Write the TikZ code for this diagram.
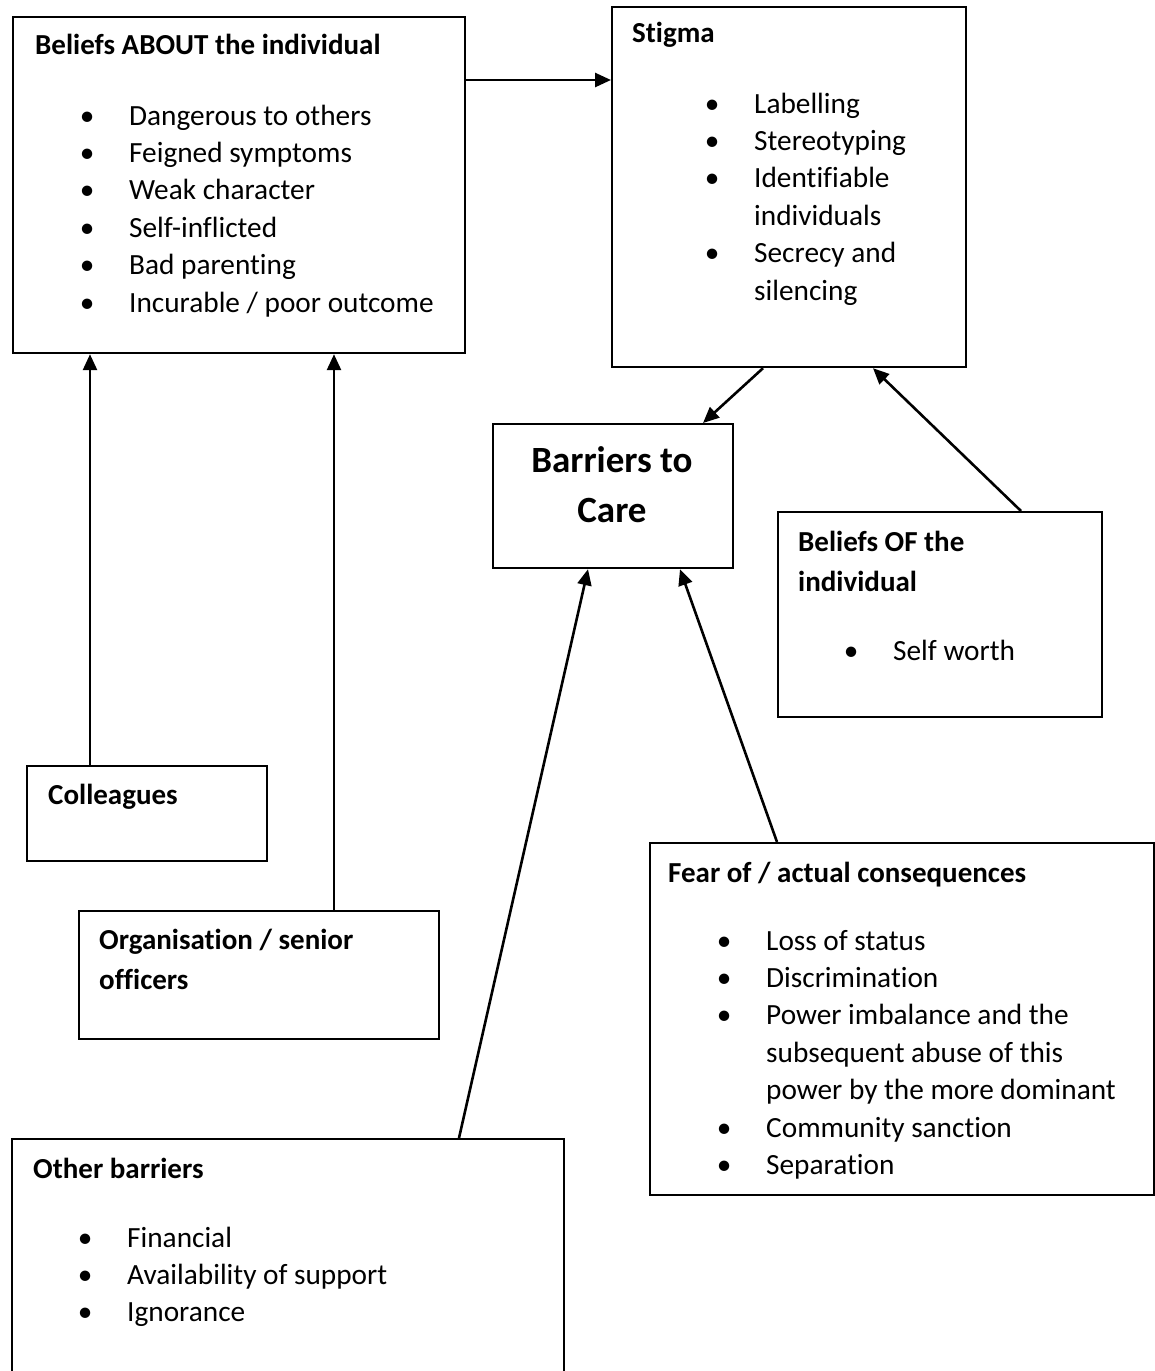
\documentclass[tikz,border=0pt]{standalone}
\usepackage{fontspec}
\setmainfont{Carlito}[Ligatures=NoCommon]
\usetikzlibrary{arrows.meta}
\newcommand{\bul}{\leavevmode\llap{\makebox[0pt][c]{\textbullet}\hspace{42pt}}}
\tikzset{
  box/.style={draw, line width=2.2pt, anchor=north west, inner sep=0pt},
  arr/.style={line width=2.6pt, -{Triangle[length=16pt,width=14pt]}},
  ttl/.style={anchor=base west, inner sep=0pt, font=\fontsize{29}{40}\selectfont\bfseries},
  lst/.style={anchor=base west, inner sep=0pt, font=\fontsize{29.3}{37.4}\selectfont},
}
\newcommand{\lines}[2]{\parbox[t]{#1}{#2}}
\begin{document}
\begin{tikzpicture}[x=1pt,y=-1pt]
\useasboundingbox (0,0) rectangle (1155,1371);
\clip (0,0) rectangle (1155,1371);
% boxes
\node[box, minimum width=452pt, minimum height=336pt] (b1) at (12,16) {};
\node[box, minimum width=354pt, minimum height=360pt] (b2) at (611,6) {};
\node[box, minimum width=240pt, minimum height=144pt] (b3) at (492,423) {};
\node[box, minimum width=324pt, minimum height=205pt] (b4) at (777,511) {};
\node[box, minimum width=240pt, minimum height=95pt] (b5) at (26,765) {};
\node[box, minimum width=360pt, minimum height=128pt] (b6) at (78,910) {};
\node[box, minimum width=552pt, minimum height=250pt] (b7) at (11,1138) {};
\node[box, minimum width=504pt, minimum height=352pt] (b8) at (649,842) {};
% texts
\node[ttl] (t1) at (35,54) {Beliefs ABOUT the individual};
\node[lst] (l1) at (129,125) {\lines{330pt}{\bul Dangerous to others\\\bul Feigned symptoms\\\bul Weak character\\\bul Self-inflicted\\\bul Bad parenting\\\bul Incurable / poor outcome}};
\node[ttl] (t2) at (632,42) {Stigma};
\node[lst] (l2) at (754,113) {\lines{200pt}{\bul Labelling\\\bul Stereotyping\\\bul Identifiable\\individuals\\\bul Secrecy and\\silencing}};
\node[anchor=base, inner sep=0pt, font=\fontsize{37}{50}\selectfont\bfseries] (t3) at (612,472) {\lines{230pt}{\centering Barriers to\\Care}};
\node[ttl] (t4) at (798,551) {\lines{300pt}{Beliefs OF the\\individual}};
\node[lst] (l4) at (893,660) {\lines{200pt}{\bul Self worth}};
\node[ttl] (t5) at (48,804) {Colleagues};
\node[ttl] (t6) at (99,949) {\lines{330pt}{Organisation / senior\\officers}};
\node[ttl] (t7) at (33,1178) {Other barriers};
\node[lst] (l7) at (127,1247) {\lines{400pt}{\bul Financial\\\bul Availability of support\\\bul Ignorance}};
\node[ttl] (t8) at (668,882) {Fear of / actual consequences};
\node[lst] (l8) at (766,950) {\lines{380pt}{\bul Loss of status\\\bul Discrimination\\\bul Power imbalance and the\\subsequent abuse of this\\power by the more dominant\\\bul Community sanction\\\bul Separation}};
% arrows
\draw[arr] ([yshift=-64pt]b1.north east) -- ([yshift=-74pt]b2.north west);
\draw[arr] ([xshift=64pt]b5.north west) -- ([xshift=78pt]b1.south west);
\draw[arr] ([xshift=256pt]b6.north west) -- ([xshift=322pt]b1.south west);
\draw[arr] ([xshift=152pt]b2.south west) -- ([xshift=211pt]b3.north west);
\draw[arr] ([xshift=244pt]b4.north west) -- ([xshift=262pt]b2.south west);
\draw[arr] ([xshift=448pt]b7.north west) -- ([xshift=96pt]b3.south west);
\draw[arr] ([xshift=128pt]b8.north west) -- ([xshift=188pt]b3.south west);
\end{tikzpicture}
\end{document}
